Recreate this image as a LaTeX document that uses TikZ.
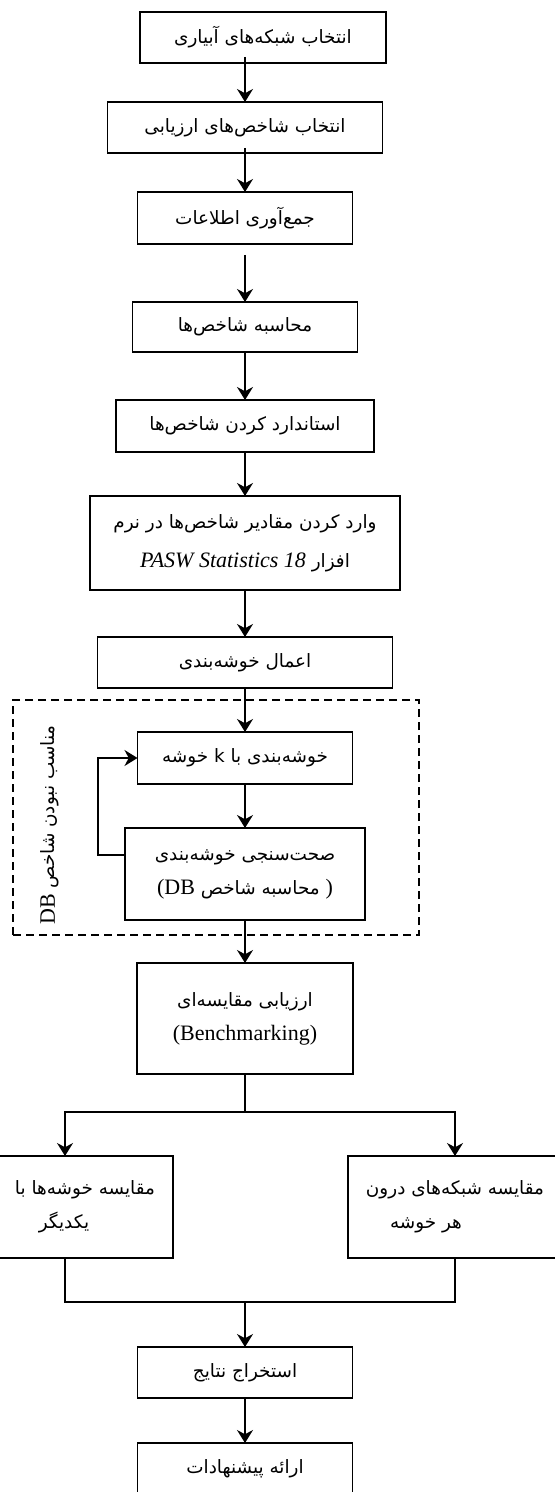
\documentclass[tikz,border=0pt]{standalone}
\usepackage{fontspec}
\setmainfont{Liberation Serif}
\newfontfamily\persianfont[Script=Arabic]{DejaVu Sans}
\TeXXeTstate=1
\usetikzlibrary{arrows.meta, positioning, calc}

\newcommand{\fatext}[1]{\beginR#1\endR}
\newcommand{\latn}[1]{\beginL{\rmfamily\fontsize{11}{17}\selectfont#1}\endL}

\begin{document}
\begin{tikzpicture}[
    stepbox/.style={rectangle, draw, line width=0.9pt, minimum height=25.5pt,
                    align=center, inner sep=2pt, outer sep=0pt,
                    font=\persianfont\fontsize{9.2}{17}\selectfont},
    arrow/.style={-{Stealth[length=6.5pt, width=8pt]}, line width=0.75pt},
    link/.style={line width=0.75pt},
    groupbox/.style={rectangle, draw, line width=0.9pt, dash pattern=on 4pt off 2.5pt}
]
    \useasboundingbox (0,0) rectangle (277pt,-746pt);

    % main column
    \node[stepbox, minimum width=123pt] (nets) at (131.5pt,-18.75pt) {\fatext{انتخاب شبکه‌های آبیاری}};
    \node[stepbox, minimum width=137.5pt, below=19.5pt of nets, xshift=-9pt] (indices) {\fatext{انتخاب شاخص‌های ارزیابی}};
    \node[stepbox, minimum width=107.5pt, minimum height=26pt, below=19.5pt of indices] (collect) {\fatext{جمع‌آوری اطلاعات}};
    \node[stepbox, minimum width=112.5pt, minimum height=25pt, below=29pt of collect] (compute) {\fatext{محاسبه شاخص‌ها}};
    \node[stepbox, minimum width=129pt, minimum height=26pt, below=24pt of compute] (standard) {\fatext{استاندارد کردن شاخص‌ها}};
    \node[stepbox, minimum width=155pt, minimum height=47pt, below=22pt of standard] (enter) {\fatext{وارد کردن مقادیر شاخص‌ها در نرم}\\[2.5pt]\fatext{افزار \latn{\itshape PASW Statistics 18}}};
    \node[stepbox, minimum width=147.5pt, below=23.5pt of enter] (apply) {\fatext{اعمال خوشه‌بندی}};

    % clustering loop
    \node[groupbox, minimum width=203pt, minimum height=117.5pt, inner sep=0pt] (loopgroup) at (108pt,-408.75pt) {};
    \node[stepbox, minimum width=107.5pt, minimum height=26pt, below=22pt of apply] (kclust) {\fatext{خوشه‌بندی با k خوشه}};
    \node[stepbox, minimum width=120pt, minimum height=46pt, below=22pt of kclust] (validate) {\fatext{صحت‌سنجی خوشه‌بندی}\\\latn{(DB} \fatext{محاسبه شاخص} \latn{)}};
    \node[rotate=90, font=\persianfont\fontsize{9.2}{17}\selectfont] (unfit) at (25pt,-412.5pt) {\fatext{مناسب نبودن شاخص \latn{DB}}};

    \node[stepbox, minimum width=108pt, minimum height=55.5pt, below=21.5pt of validate] (bench) {\fatext{ارزیابی مقایسه‌ای}\\\latn{(Benchmarking)}};

    % comparison branches
    \node[stepbox, minimum width=88pt, minimum height=51pt, below=41pt of bench, xshift=-80pt] (cmpL) {\fatext{مقایسه خوشه‌ها با}\\\fatext{یکدیگر}\hspace*{21pt}};
    \node[stepbox, minimum width=107pt, minimum height=51pt, below=41pt of bench, xshift=105pt] (cmpR) {\fatext{مقایسه شبکه‌های درون}\\\fatext{هر خوشه}\hspace*{29pt}};

    \node[stepbox, minimum width=107.5pt, below=136.5pt of bench] (results) {\fatext{استخراج نتایج}};
    \node[stepbox, minimum width=107.5pt, below=22.5pt of results] (proposals) {\fatext{ارائه پیشنهادات}};

    % connectors
    \draw[arrow, shorten <=-3pt] (indices.north |- nets.south) -- (indices);
    \draw[arrow, shorten <=-2.5pt] (indices) -- (collect);
    \draw[arrow, shorten <=5.5pt] (collect) -- (compute);
    \draw[arrow] (compute) -- (standard);
    \draw[arrow] (standard) -- (enter);
    \draw[arrow] (enter) -- (apply);
    \draw[arrow] (apply) -- (kclust);
    \draw[arrow] (kclust) -- (validate);
    \draw[arrow] ([yshift=9.5pt]validate.west) -- ++(-13.5pt,0) |- (kclust.west);
    \draw[arrow] (validate) -- (bench);

    \draw[link] (bench.south) -- ++(0,-19pt) coordinate (split);
    \draw[arrow] (split) -| ([xshift=-10pt]cmpL.north);
    \draw[arrow] (split) -| (cmpR.north);
    \draw[link] ([xshift=-10pt]cmpL.south) -- ++(0,-22pt) coordinate (joinL) -- (joinL -| cmpR.south) -- (cmpR.south);
    \draw[arrow] (joinL -| results.north) -- (results);
    \draw[arrow] (results) -- (proposals);
\end{tikzpicture}
\end{document}
